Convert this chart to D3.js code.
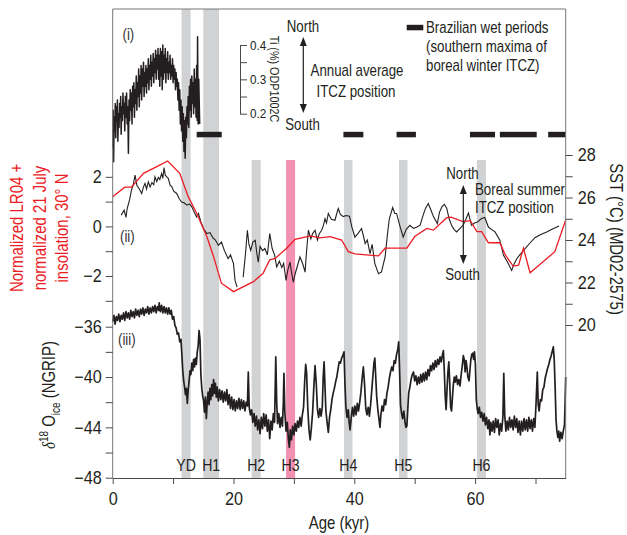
<!DOCTYPE html>
<html>
<head>
<meta charset="utf-8">
<script src="https://cdn.jsdelivr.net/npm/d3@7"></script>
<style>
  body { margin: 0; background: #fff; }
  svg { display: block; }
</style>
</head>
<body>
<svg id="chart" width="627" height="535"></svg>
<script>
// ---- data ----
// age axis (kyr)
const ageTicks = [0, 10, 20, 30, 40, 50, 60, 70];
const lrTicks = [-3, -2, -1, 0, 1, 2];
const d18Ticks = [-48, -46, -44, -42, -40, -38, -36];
const sstTicks = [20, 21, 22, 23, 24, 25, 26, 27, 28];
const tiTicks = [0.2, 0.25, 0.3, 0.35, 0.4];

// Heinrich stadials / Younger Dryas (kyr)
const eventNames = ['YD', 'H1', 'H2', 'H3', 'H4', 'H5', 'H6'];
const eventStart = [11.4, 15.0, 23.0, 28.7, 38.3, 47.4, 60.3];
const eventEnd = [12.9, 17.6, 24.5, 30.2, 39.7, 48.8, 61.8];

// Brazilian wet periods (kyr)
const wetStart = [13.9, 38.2, 47.0, 59.15, 64.1, 72.1];
const wetEnd = [18.05, 41.5, 50.2, 63.3, 70.2, 75.0];

// (i) Ti (%) ODP1002C
const tiSeries = [
  [0.00,0.10],[0.08,0.21],[0.15,0.06],[0.25,0.19],[0.35,0.15],[0.42,0.23],[0.50,0.13],[0.60,0.22],[0.70,0.18],[0.78,0.24],
  [0.85,0.12],[0.95,0.20],[1.05,0.16],[1.15,0.23],[1.25,0.19],[1.32,0.25],[1.40,0.14],[1.50,0.22],[1.60,0.18],[1.70,0.26],
  [1.80,0.20],[1.90,0.23],[2.00,0.15],[2.10,0.25],[2.20,0.19],[2.30,0.26],[2.40,0.17],[2.50,0.22],[2.60,0.085],[2.70,0.24],
  [2.80,0.18],[2.90,0.27],[3.00,0.21],[3.10,0.26],[3.20,0.17],[3.30,0.28],[3.40,0.22],[3.50,0.29],[3.60,0.19],[3.70,0.27],
  [3.80,0.23],[3.90,0.31],[4.00,0.21],[4.10,0.29],[4.20,0.25],[4.30,0.33],[4.40,0.22],[4.50,0.31],[4.60,0.26],[4.70,0.34],
  [4.80,0.24],[4.90,0.33],[5.00,0.28],[5.10,0.35],[5.20,0.25],[5.30,0.32],[5.40,0.28],[5.50,0.34],[5.60,0.26],[5.70,0.33],
  [5.80,0.29],[5.90,0.36],[6.00,0.27],[6.10,0.34],[6.20,0.30],[6.30,0.37],[6.40,0.28],[6.50,0.35],[6.60,0.31],[6.70,0.375],
  [6.80,0.29],[6.90,0.36],[7.00,0.32],[7.10,0.385],[7.20,0.30],[7.30,0.37],[7.40,0.33],[7.50,0.39],[7.60,0.30],[7.70,0.37],
  [7.80,0.28],[7.90,0.39],[8.00,0.31],[8.10,0.38],[8.20,0.27],[8.30,0.40],[8.40,0.30],[8.50,0.37],[8.60,0.32],[8.70,0.39],
  [8.80,0.29],[8.90,0.36],[9.00,0.32],[9.10,0.38],[9.20,0.30],[9.30,0.35],[9.40,0.32],[9.50,0.37],[9.60,0.30],[9.70,0.34],
  [9.80,0.31],[9.90,0.36],[10.00,0.29],[10.10,0.34],[10.20,0.30],[10.30,0.33],[10.40,0.27],[10.50,0.32],[10.60,0.28],[10.70,0.30],
  [10.80,0.24],[10.90,0.29],[11.00,0.21],[11.10,0.27],[11.20,0.17],[11.30,0.24],[11.40,0.15],[11.50,0.22],[11.60,0.12],[11.70,0.20],
  [11.80,0.09],[11.90,0.18],[12.00,0.07],[12.10,0.19],[12.20,0.13],[12.30,0.22],[12.40,0.17],[12.50,0.25],[12.60,0.16],[12.70,0.28],
  [12.80,0.21],[12.90,0.30],[13.00,0.19],[13.10,0.31],[13.20,0.23],[13.30,0.29],[13.40,0.20],[13.50,0.33],[13.60,0.22],[13.70,0.30],
  [13.80,0.19],[13.90,0.34],[14.00,0.18],[14.05,0.424],[14.15,0.17],[14.25,0.30],[14.40,0.17]
];

// (ii) normalized LR04 + 21 July insolation 30N (red, left axis)
const lrSeries = [
  [0,1.2],[2.0,1.58],[3.1,1.58],[5.1,2.14],[7.3,2.41],[9.1,2.64],[11.1,2.14],[12.5,1.2],[13.9,0.53],
  [15.6,-0.42],[16.7,-1.22],[18.0,-2.29],[20.0,-2.63],[23.3,-2.23],[24.9,-1.89],[26.0,-1.35],[26.9,-1.29],
  [28.8,-0.88],[30.2,-0.52],[32.7,-0.38],[34.3,-0.46],[36.0,-0.41],[37.9,-0.55],[39.0,-1.02],[40.1,-1.11],
  [42.0,-1.15],[44.0,-1.19],[45.1,-0.88],[48.7,-0.88],[50.0,-0.41],[52.0,-0.08],[53.1,-0.15],[55.3,0.35],
  [56.0,0.37],[58.0,0.19],[59.2,0.23],[60.3,-0.21],[61.1,-0.21],[62.2,-0.66],[64.1,-0.66],[65.0,-1.15],
  [66.3,-1.6],[67.2,-1.56],[68.0,-0.88],[69.1,-1.87],[71.3,-1.42],[73.2,-1.02],[75.0,0.26]
];

// (ii) SST MD02-2575 (black, right axis); null marks a gap
const sstSeries = [
  [1.4,25.17],[1.9,25.4],[2.2,25.06],[2.4,25.48],[2.8,25.9],[3.1,26.34],[3.4,26.6],[3.7,27.05],[4.0,26.58],[4.4,26.4],
  [4.8,26.19],[5.1,26.5],[5.35,26.66],[5.6,26.4],[5.9,26.74],[6.2,26.5],[6.5,26.7],[6.8,26.6],[7.0,26.97],[7.3,26.75],
  [7.55,26.95],[7.8,26.85],[8.1,27.13],[8.3,26.9],[8.5,27.41],[8.7,27.05],[8.95,26.97],[9.2,26.9],[9.5,26.58],[9.8,26.5],
  [10.1,26.3],[10.6,26.19],[11.0,25.95],[11.4,25.79],[11.8,25.75],[12.3,25.64],[12.7,25.7],[13.1,25.56],[13.5,25.3],[13.9,25.08],
  [14.2,25.25],[14.6,24.85],[15.1,24.5],[15.6,24.3],[16.1,24.35],[16.6,24.1],[17.0,24.0],[17.5,23.75],[18.0,23.9],[18.5,23.5],
  [19.1,23.12],[19.5,23.3],[20.0,22.89],[20.25,22.1],[20.6,21.78],[21.1,null],[21.6,22.25],[22.0,23.4],[22.3,24.46],[22.55,23.8],
  [22.85,23.51],[23.2,23.9],[23.6,23.99],[23.85,23.4],[24.1,22.96],[24.4,23.7],[24.8,23.5],[25.2,23.6],[25.6,23.3],[26.0,24.3],
  [26.4,23.6],[26.8,23.3],[27.15,22.73],[27.6,23.0],[28.0,22.7],[28.3,22.9],[28.7,22.1],[29.0,22.6],[29.35,22.96],[29.6,22.5],
  [29.9,22.02],[30.2,22.4],[30.6,22.8],[31.0,23.2],[31.3,23.0],[31.55,22.8],[31.85,22.49],[32.1,23.5],[32.4,24.46],[32.8,24.05],
  [33.1,24.3],[33.5,24.46],[33.9,24.0],[34.2,24.3],[34.6,24.46],[34.9,24.7],[35.15,25.0],[35.4,24.8],[35.7,25.25],[36.2,24.97],
  [36.8,24.93],[37.05,25.2],[37.35,25.48],[37.7,25.2],[38.2,25.1],[38.6,25.15],[39.2,25.12],[39.6,24.61],[40.1,24.14],[40.6,24.3],
  [41.2,24.54],[41.5,24.2],[41.8,23.83],[42.15,24.0],[42.6,23.36],[42.95,23.8],[43.4,22.89],[44.0,22.41],[44.5,22.5],[45.1,23.2],
  [45.5,24.3],[45.8,25.0],[46.35,25.53],[46.7,25.25],[47.0,25.25],[47.6,24.61],[48.1,24.14],[48.6,24.5],[49.2,24.69],[49.8,24.55],
  [50.3,24.6],[50.9,24.7],[51.4,25.17],[51.8,25.5],[52.25,25.72],[52.7,25.4],[53.1,25.1],[53.75,24.77],[54.1,25.3],[54.5,25.56],
  [54.9,25.68],[55.3,25.5],[55.7,25.0],[56.1,24.69],[56.5,24.5],[56.95,24.38],[57.5,24.55],[58.0,24.69],[58.5,25.0],[58.9,25.27],
  [59.4,24.69],[59.9,24.8],[60.4,24.85],[61.0,25.0],[61.6,25.06],[62.2,24.61],[62.7,24.5],[63.3,24.38],[64.1,23.99],[64.7,23.28],
  [65.3,23.0],[66.05,22.57],[66.5,22.9],[66.9,23.12],[67.4,23.3],[68.0,23.5],[68.9,23.8],[69.9,24.11],[70.8,24.25],[71.85,24.38],
  [72.9,24.53],[73.9,24.66]
];

// (iii) NGRIP d18O ice (permil)
const d18Series = [
  [0,-35.6],[0.2,-35.1],[0.4,-35.8],[0.6,-35.2],[0.8,-35.5],[1.0,-35.0],[1.2,-35.6],[1.4,-35.1],[1.6,-35.4],[1.8,-34.9],
  [2.0,-35.5],[2.2,-34.8],[2.4,-35.3],[2.6,-34.9],[2.8,-35.4],[3.0,-34.7],[3.2,-35.2],[3.4,-34.8],[3.6,-35.3],[3.8,-34.6],
  [4.0,-35.1],[4.2,-34.7],[4.4,-35.2],[4.6,-34.6],[4.8,-35.0],[5.0,-34.5],[5.2,-35.1],[5.4,-34.6],[5.6,-34.9],[5.8,-34.4],
  [6.0,-35.0],[6.2,-34.5],[6.4,-34.9],[6.6,-34.4],[6.8,-34.8],[7.0,-34.3],[7.2,-34.9],[7.4,-34.4],[7.6,-34.7],[7.7,-34.1],
  [7.9,-34.8],[8.1,-34.3],[8.3,-34.9],[8.5,-34.4],[8.7,-34.9],[8.9,-34.5],[9.1,-35.0],[9.3,-34.5],[9.5,-35.0],[9.7,-34.7],
  [9.9,-35.4],[10.1,-35.2],[10.3,-35.9],[10.5,-36.1],[10.7,-36.6],[10.9,-36.5],[11.1,-37.2],[11.3,-37.0],[11.45,-38.2],[11.6,-39.5],
  [11.75,-40.3],[11.9,-40.8],[12.05,-41.4],[12.2,-40.9],[12.35,-42.1],[12.5,-41.0],[12.65,-40.3],[12.8,-39.5],[12.95,-39.8],[13.1,-38.9],
  [13.25,-39.5],[13.4,-38.6],[13.55,-39.2],[13.7,-38.5],[13.85,-39.0],[14.0,-38.0],[14.15,-37.5],[14.3,-36.3],[14.45,-37.0],[14.6,-39.8],
  [14.75,-40.9],[14.9,-41.5],[15.05,-41.9],[15.2,-42.8],[15.35,-41.6],[15.5,-43.3],[15.65,-42.0],[15.8,-41.2],[15.95,-42.2],[16.1,-40.9],
  [16.25,-41.8],[16.4,-40.6],[16.55,-41.5],[16.7,-40.2],[16.85,-41.3],[17.0,-40.5],[17.15,-41.6],[17.3,-40.8],[17.5,-41.9],[17.7,-41.0],
  [17.9,-41.8],[18.1,-41.1],[18.3,-42.0],[18.5,-41.2],[18.7,-41.9],[18.9,-41.0],[19.1,-42.2],[19.3,-41.4],[19.5,-42.5],[19.7,-41.6],
  [19.9,-42.6],[20.1,-41.8],[20.3,-42.7],[20.5,-41.9],[20.7,-42.5],[20.9,-41.7],[21.1,-42.6],[21.3,-41.8],[21.5,-42.5],[21.7,-41.9],
  [21.9,-42.7],[22.1,-42.0],[22.3,-42.3],[22.45,-39.6],[22.6,-42.4],[22.8,-43.0],[23.0,-42.6],[23.2,-43.6],[23.4,-42.9],[23.6,-43.9],
  [23.8,-43.1],[24.0,-44.2],[24.2,-43.4],[24.4,-44.5],[24.6,-43.2],[24.8,-44.1],[25.0,-42.9],[25.2,-43.9],[25.4,-43.0],[25.6,-44.3],
  [25.8,-43.4],[26.0,-44.9],[26.2,-43.5],[26.4,-44.2],[26.6,-42.9],[26.8,-43.6],[27.0,-38.4],[27.15,-42.0],[27.3,-43.7],[27.5,-42.9],
  [27.7,-44.0],[27.9,-43.2],[28.1,-43.9],[28.25,-42.0],[28.35,-39.7],[28.5,-42.8],[28.7,-44.3],[28.9,-43.6],[29.1,-45.0],[29.25,-45.6],
  [29.4,-44.2],[29.6,-45.0],[29.8,-43.9],[30.0,-44.6],[30.2,-43.7],[30.4,-44.3],[30.6,-43.5],[30.8,-44.0],[31.0,-43.2],[31.2,-43.9],
  [31.4,-43.0],[31.6,-42.4],[31.8,-40.2],[31.95,-39.0],[32.1,-39.6],[32.3,-42.5],[32.5,-44.2],[32.7,-45.0],[32.9,-44.0],[33.1,-42.8],
  [33.3,-40.8],[33.5,-39.1],[33.7,-40.5],[33.9,-42.6],[34.1,-43.2],[34.3,-42.5],[34.5,-43.1],[34.7,-42.4],[34.85,-40.0],[35.0,-38.8],
  [35.15,-40.8],[35.3,-42.7],[35.5,-43.6],[35.7,-44.4],[35.9,-43.2],[36.1,-42.6],[36.3,-41.8],[36.5,-41.3],[36.7,-40.9],[36.9,-40.4],
  [37.1,-40.0],[37.3,-39.4],[37.5,-38.8],[37.7,-38.9],[37.9,-38.5],[38.1,-38.3],[38.3,-38.0],[38.45,-40.5],[38.6,-42.3],[38.8,-43.2],
  [39.0,-42.6],[39.15,-43.6],[39.3,-44.2],[39.5,-43.2],[39.7,-42.4],[39.9,-43.1],[40.1,-42.3],[40.3,-43.0],[40.5,-42.1],[40.7,-42.7],
  [40.9,-42.0],[41.1,-41.2],[41.3,-40.1],[41.5,-39.2],[41.7,-40.6],[41.9,-42.5],[42.1,-43.0],[42.3,-42.4],[42.5,-43.1],[42.7,-42.2],
  [42.9,-41.0],[43.1,-39.8],[43.25,-38.9],[43.4,-38.5],[43.55,-40.0],[43.7,-41.5],[43.9,-42.6],[44.1,-43.4],[44.25,-44.0],[44.4,-43.0],
  [44.6,-42.3],[44.8,-42.7],[45.0,-41.8],[45.2,-42.2],[45.4,-41.3],[45.6,-40.8],[45.8,-40.1],[46.0,-39.6],[46.2,-39.2],[46.4,-39.5],
  [46.6,-38.7],[46.8,-38.9],[47.0,-38.2],[47.2,-37.8],[47.35,-37.2],[47.5,-39.5],[47.65,-42.2],[47.8,-42.8],[48.0,-43.3],[48.2,-42.7],
  [48.4,-43.6],[48.55,-44.0],[48.7,-43.9],[48.85,-42.6],[49.0,-41.3],[49.2,-40.8],[49.4,-40.2],[49.6,-39.8],[49.8,-39.6],[50.0,-40.3],
  [50.2,-39.9],[50.4,-40.6],[50.6,-40.0],[50.8,-40.5],[51.0,-39.8],[51.2,-40.4],[51.4,-39.7],[51.6,-40.3],[51.8,-39.6],[52.0,-40.2],
  [52.2,-39.4],[52.4,-39.9],[52.6,-39.1],[52.8,-39.5],[53.0,-38.9],[53.2,-39.4],[53.4,-38.7],[53.6,-39.2],[53.8,-38.6],[54.0,-39.0],
  [54.2,-38.4],[54.4,-38.8],[54.6,-38.2],[54.75,-37.9],[54.9,-39.5],[55.05,-41.5],[55.2,-42.6],[55.35,-41.0],[55.5,-39.6],[55.65,-38.8],
  [55.8,-40.5],[55.95,-42.4],[56.1,-42.7],[56.25,-41.6],[56.4,-40.6],[56.55,-40.0],[56.7,-40.4],[56.9,-39.9],[57.1,-40.6],[57.3,-40.2],
  [57.5,-40.7],[57.7,-39.8],[57.9,-39.0],[58.05,-38.3],[58.2,-38.6],[58.35,-39.6],[58.5,-38.7],[58.65,-39.2],[58.8,-40.0],[59.0,-40.3],
  [59.15,-39.4],[59.3,-38.6],[59.45,-38.2],[59.6,-38.1],[59.75,-38.6],[59.9,-38.0],[60.05,-39.0],[60.2,-41.8],[60.35,-42.5],[60.5,-42.9],
  [60.7,-42.4],[60.9,-43.2],[61.1,-42.8],[61.3,-43.5],[61.5,-42.9],[61.7,-43.8],[61.9,-43.2],[62.1,-44.1],[62.3,-43.4],[62.45,-44.6],
  [62.6,-43.6],[62.8,-44.3],[63.0,-43.5],[63.2,-44.4],[63.4,-43.3],[63.6,-44.0],[63.8,-43.4],[64.0,-44.6],[64.2,-43.7],[64.4,-44.3],
  [64.6,-43.2],[64.75,-39.7],[64.9,-43.0],[65.1,-44.3],[65.3,-43.5],[65.5,-44.2],[65.7,-43.2],[65.9,-44.0],[66.1,-43.4],[66.3,-44.2],
  [66.5,-43.1],[66.7,-44.0],[66.9,-43.3],[67.1,-44.4],[67.3,-43.5],[67.5,-44.6],[67.7,-43.5],[67.9,-44.3],[68.1,-43.3],[68.3,-44.2],
  [68.5,-43.4],[68.7,-44.3],[68.9,-43.2],[69.1,-44.1],[69.3,-43.4],[69.5,-44.3],[69.7,-43.3],[69.9,-44.0],[70.1,-42.0],[70.3,-39.6],
  [70.45,-42.2],[70.6,-42.7],[70.8,-41.8],[71.0,-41.9],[71.2,-41.0],[71.4,-40.8],[71.6,-40.1],[71.8,-39.7],[72.0,-39.3],[72.2,-39.0],
  [72.4,-38.6],[72.6,-38.3],[72.8,-37.9],[72.95,-37.6],[73.1,-38.6],[73.25,-40.8],[73.4,-43.4],[73.55,-44.3],[73.7,-44.8],[73.85,-44.3],
  [74.0,-45.1],[74.2,-44.4],[74.4,-44.9],[74.6,-44.3],[74.8,-43.8],[74.9,-42.0],[75.0,-40.0]
];

// ---- layout ----
const plotLeft = 112.7, plotRight = 565.7, plotTop = 9, plotBottom = 478;
const ink = '#231f20';
const axisInk = '#4a4a4a';
const font = '"Liberation Sans", Arial, sans-serif';

const svg = d3.select('#chart').style('font-family', font);

const x = d3.scaleLinear().domain([0, 75]).range([plotLeft, plotRight]);
const yTi = d3.scaleLinear().domain([0.2, 0.4]).range([113.7, 45]);
const yLR = d3.scaleLinear().domain([-3, 2]).range([300.8, 176.8]);
const ySST = d3.scaleLinear().domain([20, 28]).range([325, 155]);
const yD18 = d3.scaleLinear().domain([-48, -36]).range([477.7, 326.7]);

// shaded event bars (YD and H1 run up to the top panel)
const events = eventNames.map((name, i) => ({ name, start: eventStart[i], end: eventEnd[i] }));
const barTop = d => (d.name === 'YD' || d.name === 'H1') ? plotTop : 160;
svg.append('g').selectAll('rect')
  .data(events)
  .enter()
  .append('rect')
  .attr('x', d => x(d.start))
  .attr('width', d => x(d.end) - x(d.start))
  .attr('y', barTop)
  .attr('height', d => plotBottom - barTop(d))
  .attr('fill', d => d.name === 'H3' ? '#f391b2' : '#d1d2d4');

// wet period dashes
const wet = wetStart.map((s, i) => ({ start: s, end: wetEnd[i] }));
svg.append('g').selectAll('rect')
  .data(wet)
  .enter()
  .append('rect')
  .attr('x', d => x(d.start))
  .attr('width', d => x(d.end) - x(d.start))
  .attr('y', 131.8)
  .attr('height', 5.5)
  .attr('fill', ink);

// curves
const line = (yScale) => d3.line()
  .defined(d => d[1] != null)
  .x(d => x(d[0]))
  .y(d => yScale(d[1]));

svg.append('path').datum(tiSeries)
  .attr('d', line(yTi))
  .attr('fill', 'none').attr('stroke', ink).attr('stroke-width', 1.5).attr('stroke-linejoin', 'round');

svg.append('path').datum(sstSeries)
  .attr('d', line(ySST))
  .attr('fill', 'none').attr('stroke', ink).attr('stroke-width', 1.1);

svg.append('path').datum(lrSeries)
  .attr('d', line(yLR))
  .attr('fill', 'none').attr('stroke', '#ec1c24').attr('stroke-width', 1.3);

svg.append('path').datum(d18Series)
  .attr('d', line(yD18))
  .attr('fill', 'none').attr('stroke', ink).attr('stroke-width', 1.7).attr('stroke-linejoin', 'round');

svg.append('g').selectAll('text')
  .data(events)
  .enter()
  .append('text')
  .attr('x', d => x((d.start + d.end) / 2))
  .attr('y', 471)
  .attr('text-anchor', 'middle')
  .attr('font-size', 17)
  .attr('fill', ink)
  .text(d => d.name);

// frame
svg.append('path')
  .attr('d', `M${plotLeft},${plotBottom}V${plotTop}H${plotRight}V${plotBottom}`)
  .attr('fill', 'none').attr('stroke', '#777').attr('stroke-width', 1);

// axes
function styleAxis(g, size) {
  g.attr('font-family', font).attr('font-size', size).attr('color', axisInk);
  g.selectAll('text').attr('fill', ink).classed('num', true);
}

svg.append('g')
  .attr('transform', `translate(0,${plotBottom})`)
  .call(d3.axisBottom(x).tickValues(ageTicks).tickSize(6).tickSizeOuter(0).tickPadding(8)
    .tickFormat(d => d % 20 === 0 ? d : ''))
  .call(g => styleAxis(g, 18));

svg.append('g')
  .attr('transform', `translate(${plotLeft},0)`)
  .call(d3.axisLeft(yLR).tickValues(lrTicks).tickSize(7).tickPadding(4)
    .tickFormat(d => d % 2 === 0 ? d3.format('d')(d) : ''))
  .call(g => g.select('.domain').remove())
  .call(g => styleAxis(g, 18));

svg.append('g')
  .attr('transform', `translate(${plotLeft},0)`)
  .call(d3.axisLeft(yD18).tickValues(d18Ticks).tickSize(7).tickPadding(4)
    .tickFormat(d => d % 4 === 0 ? d3.format('d')(d) : ''))
  .call(g => g.select('.domain').remove())
  .call(g => styleAxis(g, 18));

svg.append('g')
  .attr('transform', `translate(${plotRight},0)`)
  .call(d3.axisRight(ySST).tickValues(sstTicks).tickSize(7).tickPadding(5)
    .tickFormat(d => d % 2 === 0 ? d : ''))
  .call(g => g.select('.domain').remove())
  .call(g => styleAxis(g, 18));

svg.append('g')
  .attr('transform', 'translate(240,0)')
  .call(d3.axisRight(yTi).tickValues(tiTicks).tickSize(7).tickSizeOuter(0).tickPadding(3)
    .tickFormat(d => [0.2, 0.3, 0.4].includes(d) ? d3.format('.1f')(d) : ''))
  .call(g => styleAxis(g, 13));

// axis titles
svg.append('text')
  .attr('x', 339).attr('y', 529)
  .attr('text-anchor', 'middle').attr('font-size', 18).attr('fill', ink)
  .text('Age (kyr)');

svg.append('text')
  .attr('transform', 'translate(610,239) rotate(90)')
  .attr('text-anchor', 'middle').attr('font-size', 18).attr('fill', ink)
  .text('SST (°C) (MD02-2575)');

svg.append('text')
  .attr('transform', 'translate(269.5,79) rotate(90)')
  .attr('text-anchor', 'middle').attr('font-size', 13).attr('fill', ink)
  .text('Ti (%) ODP1002C');

const redLines = ['Normalized LR04 +', 'normalized 21 July', 'insolation, 30° N'];
svg.append('g').selectAll('text')
  .data(redLines)
  .enter()
  .append('text')
  .attr('transform', (d, i) => `translate(${23 + i * 22.5},228) rotate(-90)`)
  .attr('text-anchor', 'middle').attr('font-size', 18).attr('fill', '#ec1c24')
  .text(d => d);

const d18Label = svg.append('text')
  .attr('transform', 'translate(55,395) rotate(-90)')
  .attr('text-anchor', 'middle').attr('font-size', 18).attr('fill', ink);
d18Label.append('tspan').attr('font-style', 'italic').attr('font-family', '"Liberation Serif", serif').text('δ');
d18Label.append('tspan').attr('font-size', 12).attr('dy', -7).text('18');
d18Label.append('tspan').attr('dy', 7).text(' O');
d18Label.append('tspan').attr('font-size', 12).attr('dy', 5).text('ice');
d18Label.append('tspan').attr('dy', -5).text(' (NGRIP)');

// panel tags
[['(i)', 122.5, 40], ['(ii)', 120, 242], ['(iii)', 118, 345]].forEach(([t, tx, ty]) => {
  svg.append('text').attr('x', tx).attr('y', ty)
    .attr('font-size', 16).attr('fill', '#333').text(t);
});

// ITCZ arrows and notes
function arrow(ax, y1, y2) {
  svg.append('line').attr('x1', ax).attr('x2', ax).attr('y1', y1 + 6).attr('y2', y2 - 6)
    .attr('stroke', ink).attr('stroke-width', 1.2);
  svg.append('path').attr('d', `M${ax},${y1}L${ax - 3.5},${y1 + 9}L${ax + 3.5},${y1 + 9}Z`).attr('fill', ink);
  svg.append('path').attr('d', `M${ax},${y2}L${ax - 3.5},${y2 - 9}L${ax + 3.5},${y2 - 9}Z`).attr('fill', ink);
}
function note(tx, ty, str, anchor) {
  svg.append('text').attr('x', tx).attr('y', ty)
    .attr('text-anchor', anchor || 'start').attr('font-size', 16).attr('fill', ink).text(str);
}

arrow(303.3, 37, 113);
note(303, 32, 'North', 'middle');
note(302.5, 130, 'South', 'middle');
note(357, 76, 'Annual average', 'middle');
note(356, 97, 'ITCZ position', 'middle');

arrow(463.3, 185, 264);
note(462.5, 179, 'North', 'middle');
note(462.5, 280, 'South', 'middle');
note(475, 195, 'Boreal summer');
note(475, 213, 'ITCZ position');

// legend
svg.append('rect').attr('x', 406.7).attr('y', 24.8).attr('width', 16.6).attr('height', 5.5).attr('fill', ink);
note(426, 33, 'Brazilian wet periods');
note(426, 52, '(southern maxima of');
note(426, 71, 'boreal winter ITCZ)');

// the original uses a condensed face; squeeze the installed one along the text direction
svg.selectAll('text').each(function () {
  if (!this.textContent) return;
  const k = this.classList.contains('num') ? 0.9 : 0.83;
  const tx = +(this.getAttribute('x') || 0);
  const ty = +(this.getAttribute('y') || 0);
  const base = this.getAttribute('transform') || '';
  this.setAttribute('x', 0);
  this.setAttribute('y', 0);
  this.setAttribute('transform', `${base} translate(${tx},${ty}) scale(${k},1)`.trim());
});
</script>
</body>
</html>
